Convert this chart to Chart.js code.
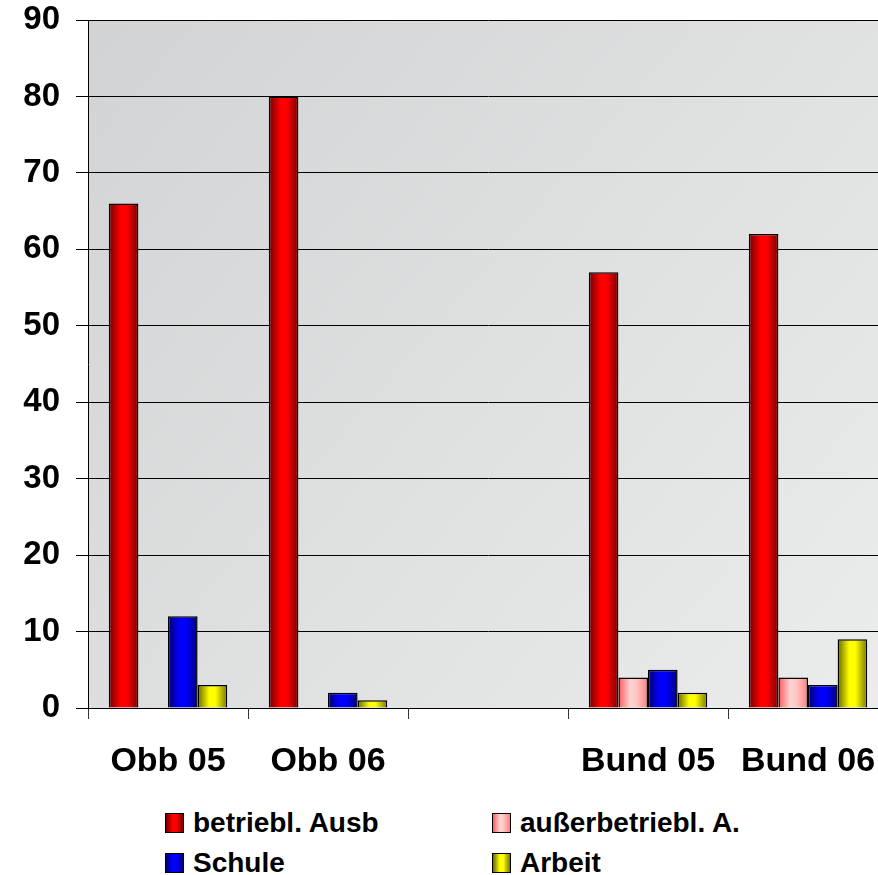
<!DOCTYPE html>
<html>
<head>
<meta charset="utf-8">
<script src="https://cdn.jsdelivr.net/npm/chart.js@4/dist/chart.umd.min.js"></script>
<style>
  html, body { margin: 0; padding: 0; background: #fff; overflow: hidden; }
  #wrap { position: relative; width: 878px; height: 875px; }
  #chart { position: absolute; left: 0; top: 0; }
  .leg { position: absolute; display: flex; align-items: center; height: 24px;
         font: bold 28px "Liberation Sans", Arial, sans-serif; color: #000; white-space: nowrap; }
  .leg i { display: inline-block; width: 17px; height: 18px; border: 1px solid #000; margin-right: 9px; }
</style>
</head>
<body>
<div id="wrap">
  <canvas id="chart" width="900" height="800"></canvas>
  <div id="legend"></div>
</div>
<script>
const categories = ["Obb 05", "Obb 06", "", "Bund 05", "Bund 06"];
const seriesNames = ["betriebl. Ausb", "außerbetriebl. A.", "Schule", "Arbeit"];
const betriebl = [66, 80, null, 57, 62];
const ausserbetriebl = [null, null, null, 4, 4];
const schule = [12, 2, null, 5, 3];
const arbeit = [3, 1, null, 2, 9];
const yTicks = [0, 10, 20, 30, 40, 50, 60, 70, 80, 90];

// gradient stops per series: edge, bright, edge
const shades = [
  ["#6e0000", "#ff0000", "#ff0000", "#7a0000"],
  ["#ff5a5a", "#ffd2d2", "#ffc8c8", "#ff8080"],
  ["#000070", "#0000ff", "#0000ff", "#000080"],
  ["#666600", "#ffff00", "#ffff00", "#777700"]
];

function barFill(i) {
  return c => {
    const meta = c.chart.getDatasetMeta(c.datasetIndex);
    const el = meta.data[c.dataIndex];
    const s = shades[i];
    if (!el || el.x === undefined || !el.width) return s[1];
    const g = c.chart.ctx.createLinearGradient(el.x - el.width / 2, 0, el.x + el.width / 2, 0);
    g.addColorStop(0, s[0]);
    g.addColorStop(0.4, s[1]);
    g.addColorStop(0.6, s[2]);
    g.addColorStop(1, s[3]);
    return g;
  };
}

const plotBg = {
  id: "plotBg",
  beforeDraw(chart) {
    const { ctx, chartArea: a } = chart;
    const g = ctx.createLinearGradient(a.left, a.top, a.right, a.bottom);
    g.addColorStop(0, "#d2d3d4");
    g.addColorStop(1, "#ebecec");
    ctx.save();
    ctx.fillStyle = g;
    ctx.fillRect(a.left, a.top, a.right - a.left, a.bottom - a.top);
    ctx.restore();
  }
};

const values = [betriebl, ausserbetriebl, schule, arbeit];
const tickFont = { family: "'Liberation Sans', Arial, sans-serif", size: 34, weight: "bold" };

const chart = new Chart(document.getElementById("chart"), {
  type: "bar",
  data: {
    labels: categories,
    datasets: values.map((v, i) => ({
      label: seriesNames[i],
      data: v,
      backgroundColor: barFill(i),
      borderColor: "#000",
      borderWidth: 1.5,
      barPercentage: 1,
      categoryPercentage: 0.74
    }))
  },
  options: {
    responsive: false,
    animation: false,
    layout: { padding: { top: 20, right: 12, left: 0, bottom: 0 } },
    plugins: { legend: { display: false }, tooltip: { enabled: false } },
    scales: {
      x: {
        grid: { offset: true, drawOnChartArea: false, color: "#333", tickLength: 11 },
        border: { display: true, color: "#000" },
        ticks: { color: "#000", font: tickFont, padding: 22, maxRotation: 0, autoSkip: false },
        afterFit: s => { s.height = 92; }
      },
      y: {
        min: 0, max: 90,
        afterBuildTicks: s => { s.ticks = yTicks.map(v => ({ value: v })); },
        grid: { color: "#000", tickLength: 12 },
        border: { display: true, color: "#000" },
        ticks: { color: "#000", font: { ...tickFont, size: 33 }, padding: 16 },
        afterFit: s => { s.width = 88; s.paddingTop = 0; s.paddingBottom = 0; }
      }
    }
  },
  plugins: [plotBg]
});
chart.update("none");

// legend in two columns under the chart
const legPos = [[165, 811], [492, 811], [165, 851], [492, 851]];
const legend = document.getElementById("legend");
seriesNames.forEach((name, i) => {
  const s = shades[i];
  const d = document.createElement("div");
  d.className = "leg";
  d.style.left = legPos[i][0] + "px";
  d.style.top = legPos[i][1] + "px";
  d.innerHTML = `<i style="background: linear-gradient(to right, ${s[0]}, ${s[1]} 40%, ${s[2]} 60%, ${s[3]})"></i>${name}`;
  legend.appendChild(d);
});
</script>
</body>
</html>
